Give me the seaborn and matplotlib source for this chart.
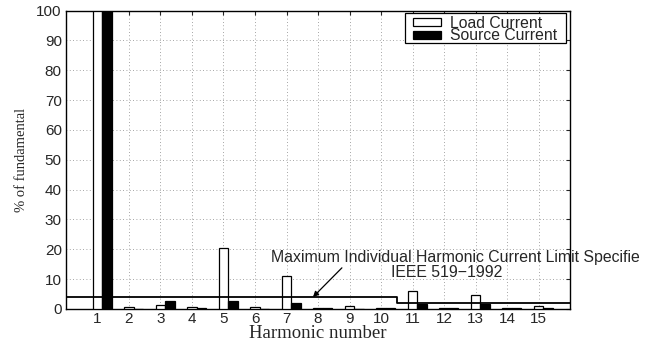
import numpy as np
import matplotlib
matplotlib.use("Agg")
import matplotlib.pyplot as plt
from matplotlib.patches import Rectangle
import seaborn as sns

# Harmonic spectrum (% of fundamental)
harmonics = list(range(1, 16))
load_current = [100, 0.8, 1.4, 0.7, 20.3, 0.6, 10.9, 0.2, 1.0, 0.2, 6.1, 0.3, 4.7, 0.3, 0.9]
source_current = [100, 0.1, 2.8, 0.4, 2.8, 0.1, 1.9, 0.2, 0.1, 0.3, 1.6, 0.3, 1.7, 0.3, 0.5]
series_names = ["Load Current", "Source Current"]

# IEEE 519-1992 individual harmonic limits (step at h = 10.5)
limit_x = [0, 10.5, 10.5, 16]
limit_y = [4, 4, 2, 2]

sns.set_style("white")
plt.rcParams["font.family"] = ["Liberation Sans", "DejaVu Sans"]
FS = 11

W, H = 650, 342
fig = plt.figure(figsize=(W / 100, H / 100), dpi=100)
ax = fig.add_axes([0.1015, 0.0965, 0.7755, 0.8725])

bar_w = 0.3
x_load = np.array(harmonics, dtype=float)
sns.barplot(x=x_load, y=load_current, native_scale=True,
            width=bar_w, color="white", edgecolor="black", linewidth=0.9,
            errorbar=None, ax=ax, zorder=3)
sns.barplot(x=x_load + bar_w, y=source_current, native_scale=True,
            width=bar_w, color="black", edgecolor="black", linewidth=0.9,
            errorbar=None, ax=ax, zorder=3)
for i, p in enumerate(ax.patches):
    p.set_facecolor("white" if i < len(harmonics) else "black")

ax.plot(limit_x, limit_y, color="black", linewidth=1.3, zorder=4)

ax.set_xlim(0, 16)
ax.set_ylim(0, 100)
ax.set_xticks(harmonics)
ax.set_xticklabels([str(h) for h in harmonics])
ax.set_yticks(range(0, 101, 10))
ax.tick_params(axis="both", direction="in", length=3, labelsize=FS,
               top=True, right=True, width=0.8)
ax.tick_params(axis="y", pad=3)
ax.tick_params(axis="x", pad=2.5)
ax.grid(True, linestyle=(0, (1, 3)), color="#888888", linewidth=0.6, zorder=0)
for s in ax.spines.values():
    s.set_color("black")
    s.set_linewidth(1.0)

ax.set_xlabel("Harmonic number", family=["Liberation Serif"], fontsize=13.5)
ax.xaxis.label.set_va("baseline")
ax.xaxis.set_label_coords(0.5, -0.0972)
ax.set_ylabel("% of fundamental", family=["Liberation Serif"], fontsize=10.5, labelpad=6)

ax.annotate("Maximum Individual Harmonic Current Limit Specifie",
            xy=(7.84, 4), xytext=(6.52, 17.4), fontsize=11.4,
            ha="left", va="center", annotation_clip=False,
            arrowprops=dict(arrowstyle="-|>", color="black", lw=0.9,
                            shrinkA=0, shrinkB=0, mutation_scale=8,
                            relpos=(0.2, 0.0)))
ax.text(12.1, 12.1, "IEEE 519\u22121992", fontsize=11.4, ha="center", va="center")


# Legend box, laid out in figure pixels (origin top-left)
def px(x, y):
    return x / W, 1 - y / H


def add_rect(x0, y0, x1, y1, face):
    fx, fy = px(x0, y1)
    fig.add_artist(Rectangle((fx, fy), (x1 - x0) / W, (y1 - y0) / H,
                             transform=fig.transFigure, facecolor=face,
                             edgecolor="black", linewidth=0.9, zorder=5))


add_rect(405, 13, 566, 43, "white")
for (y0, y1, face), name in zip([(18, 26, "white"), (30.5, 38.5, "black")], series_names):
    add_rect(413, y0, 441, y1, face)
    tx, ty = px(450, (y0 + y1) / 2)
    fig.text(tx, ty, name, fontsize=11.3, ha="left", va="center_baseline", zorder=6)

fig.savefig("out.png", dpi=100)
